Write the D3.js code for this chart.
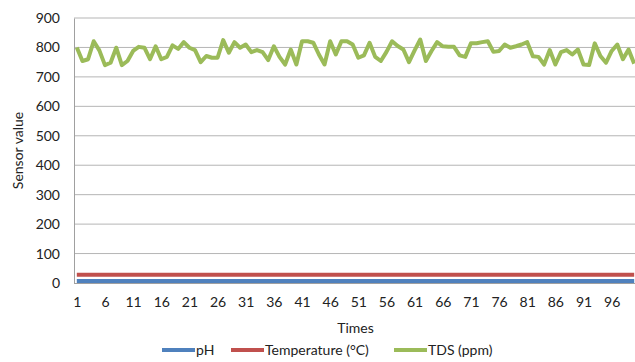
<!DOCTYPE html>
<html>
<head>
<meta charset="utf-8">
<script src="https://cdn.jsdelivr.net/npm/d3@7"></script>
<style>
  body { margin: 0; background: #fff; }
  text { font-family: Lato, "Open Sans", sans-serif; fill: #222; }
</style>
</head>
<body>
<div id="chart"></div>
<script>
// sensor readings over 100 samples

// categories (sample number)
const times = d3.range(1, 101);
const tickLabels = [1, 6, 11, 16, 21, 26, 31, 36, 41, 46, 51, 56, 61, 66, 71, 76, 81, 86, 91, 96];
const yTicks = [0, 100, 200, 300, 400, 500, 600, 700, 800, 900];

const phValues = [
  7.0, 7.1, 7.0, 6.9, 7.0, 7.1, 7.0, 7.0, 6.9, 7.0,
  7.1, 7.0, 7.0, 7.1, 6.9, 7.0, 7.0, 7.1, 7.0, 6.9,
  7.0, 7.0, 7.1, 7.0, 7.0, 6.9, 7.0, 7.1, 7.0, 7.0,
  7.0, 6.9, 7.0, 7.1, 7.0, 7.0, 7.1, 7.0, 6.9, 7.0,
  7.0, 7.1, 7.0, 7.0, 6.9, 7.0, 7.1, 7.0, 7.0, 7.0,
  6.9, 7.0, 7.1, 7.0, 7.0, 7.0, 6.9, 7.0, 7.1, 7.0,
  7.0, 7.1, 7.0, 6.9, 7.0, 7.0, 7.1, 7.0, 7.0, 6.9,
  7.0, 7.0, 7.1, 7.0, 7.0, 6.9, 7.0, 7.1, 7.0, 7.0,
  7.1, 7.0, 6.9, 7.0, 7.0, 7.1, 7.0, 7.0, 6.9, 7.0,
  7.0, 7.1, 7.0, 7.0, 6.9, 7.0, 7.0, 7.1, 7.0, 7.0
];

const tempValues = [
  28.0, 28.1, 28.0, 27.9, 28.0, 28.2, 28.1, 28.0, 27.9, 28.0,
  28.1, 28.0, 28.0, 28.1, 27.9, 28.0, 28.1, 28.2, 28.0, 27.9,
  28.0, 28.0, 28.1, 28.0, 27.9, 27.9, 28.0, 28.1, 28.0, 28.0,
  28.1, 27.9, 28.0, 28.1, 28.0, 28.0, 28.2, 28.0, 27.9, 28.0,
  28.0, 28.1, 28.0, 28.0, 27.9, 28.0, 28.1, 28.0, 28.0, 28.1,
  27.9, 28.0, 28.1, 28.0, 28.0, 28.0, 27.9, 28.0, 28.1, 28.0,
  28.0, 28.1, 28.0, 27.9, 28.0, 28.0, 28.2, 28.0, 28.0, 27.9,
  28.0, 28.0, 28.1, 28.0, 28.0, 27.9, 28.0, 28.1, 28.0, 28.0,
  28.1, 28.0, 27.9, 28.0, 28.0, 28.1, 28.0, 28.0, 27.9, 28.0,
  28.0, 28.1, 28.0, 28.0, 27.9, 28.0, 28.0, 28.1, 28.0, 28.0
];

const tdsValues = [
  800, 754, 760, 821, 790, 740, 748, 799, 740, 754,
  788, 802, 799, 760, 804, 760, 768, 807, 795, 818,
  799, 791, 750, 771, 765, 765, 825, 782, 818, 799,
  810, 784, 791, 784, 757, 804, 768, 742, 793, 742,
  821, 821, 816, 776, 742, 821, 776, 821, 821, 810,
  765, 773, 816, 768, 754, 785, 821, 805, 793, 750,
  790, 827, 754, 788, 818, 804, 802, 802, 773, 768,
  814, 814, 818, 821, 785, 788, 810, 799, 804, 810,
  818, 770, 768, 742, 791, 742, 784, 791, 776, 793,
  742, 740, 814, 771, 748, 788, 810, 760, 793, 745
];

const seriesNames = ["pH", "Temperature (°C)", "TDS (ppm)"];
const seriesColors = ["#4f81bd", "#c0504d", "#9bbb59"];

const series = [
  { name: seriesNames[0], color: seriesColors[0], values: phValues },
  { name: seriesNames[1], color: seriesColors[1], values: tempValues },
  { name: seriesNames[2], color: seriesColors[2], values: tdsValues }
];

const W = 635, H = 362;
const plot = { left: 74, right: 637, top: 18, bottom: 283 };

const svg = d3.select("#chart")
  .append("svg")
    .attr("width", W)
    .attr("height", H);

// scales
const x = d3.scalePoint()
  .domain(times)
  .range([plot.left, plot.right])
  .padding(0.5);

const y = d3.scaleLinear()
  .domain([0, 900])
  .range([plot.bottom, plot.top]);

// gridlines
svg.append("g")
  .selectAll("line")
  .data(yTicks.filter(d => d > 0))
  .join("line")
    .attr("x1", plot.left)
    .attr("x2", W)
    .attr("y1", d => y(d))
    .attr("y2", d => y(d))
    .attr("stroke", "#b5b5b5")
    .attr("stroke-width", 1);

// y axis
const yAxis = svg.append("g")
  .attr("transform", `translate(${plot.left},0)`)
  .call(d3.axisLeft(y).tickValues(yTicks).tickSize(0).tickPadding(14));
yAxis.select(".domain").attr("stroke", "#a0a0a0");
yAxis.selectAll("text").style("font-size", "14px").attr("fill", "#222");

// x axis
const xAxis = svg.append("g")
  .attr("transform", `translate(0,${plot.bottom})`)
  .call(d3.axisBottom(x).tickValues(tickLabels).tickSize(0).tickPadding(14));
xAxis.select(".domain")
  .attr("d", `M${plot.left},0.5H${W}`)
  .attr("stroke", "#a0a0a0");
xAxis.selectAll("text").style("font-size", "14px").attr("fill", "#222");

// lines
const line = d3.line()
  .x((d, i) => x(times[i]))
  .y(d => y(d));

svg.append("g")
  .selectAll("path")
  .data(series)
  .join("path")
    .attr("d", d => line(d.values))
    .attr("fill", "none")
    .attr("stroke", d => d.color)
    .attr("stroke-width", 4)
    .attr("stroke-linejoin", "round");

// axis titles
svg.append("text")
  .attr("x", (plot.left + plot.right) / 2)
  .attr("y", 333)
  .attr("text-anchor", "middle")
  .style("font-size", "14px")
  .text("Times");

svg.append("text")
  .attr("transform", `translate(23,${(plot.top + plot.bottom) / 2}) rotate(-90)`)
  .attr("text-anchor", "middle")
  .style("font-size", "14px")
  .text("Sensor value");

// legend
const legendX = [162, 231, 394];
const legend = svg.append("g")
  .selectAll("g")
  .data(series)
  .join("g")
    .attr("transform", (d, i) => `translate(${legendX[i]},350)`);

legend.append("line")
  .attr("x1", 0)
  .attr("x2", 33)
  .attr("stroke", d => d.color)
  .attr("stroke-width", 4);

legend.append("text")
  .attr("x", 34)
  .attr("y", 5)
  .style("font-size", "14px")
  .text(d => d.name);
</script>
</body>
</html>
